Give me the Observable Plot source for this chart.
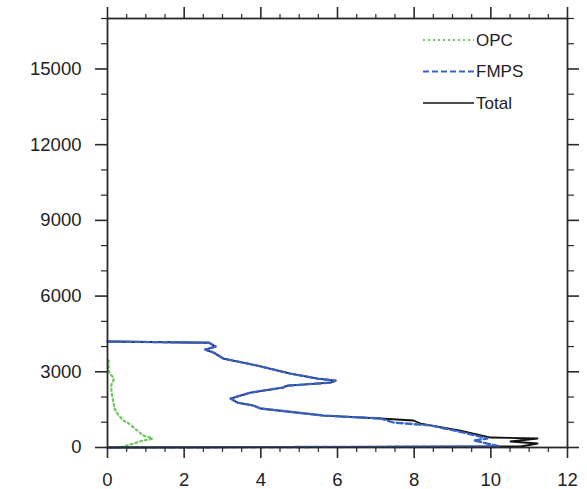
<!DOCTYPE html>
<html>
<head>
<meta charset="utf-8">
<script src="https://cdn.jsdelivr.net/npm/d3@7"></script>
<script src="https://cdn.jsdelivr.net/npm/@observablehq/plot@0.6"></script>
<style>
  html, body { margin: 0; padding: 0; background: #fff; }
  #chart { width: 587px; height: 489px; }
</style>
</head>
<body>
<div id="chart"></div>
<script>
// Series: value (x) vs altitude (y), in drawing order
const totalX = [0, 2.65, 2.82, 2.55, 2.77, 3.03, 3.91, 4.77, 5.48, 5.95, 5.82, 4.70, 4.57, 3.73, 3.47, 3.21, 3.39, 3.81, 3.99, 5.64, 7.12, 7.98, 8.17, 9.21, 10.0, 11.22, 10.51, 11.22, 10.77, 0];
const totalY = [4200, 4150, 4000, 3880, 3760, 3520, 3245, 2930, 2730, 2650, 2570, 2450, 2375, 2175, 2060, 1940, 1780, 1660, 1545, 1265, 1150, 1070, 950, 673, 396, 356, 237, 158, 40, 0];

const fmpsX = [0, 2.65, 2.82, 2.55, 2.77, 3.03, 3.91, 4.77, 5.48, 5.95, 5.82, 4.70, 4.57, 3.73, 3.47, 3.21, 3.39, 3.81, 3.99, 5.64, 7.12, 7.46, 8.43, 9.29, 9.91, 9.55, 9.91, 10.25, 0];
const fmpsY = [4200, 4150, 4000, 3880, 3760, 3520, 3245, 2930, 2730, 2650, 2570, 2450, 2375, 2175, 2060, 1940, 1780, 1660, 1545, 1265, 1150, 990, 870, 594, 356, 277, 158, 40, 0];

const opcX = [0.03, 0.05, 0.16, 0.10, 0.16, 0.21, 0.42, 0.52, 0.78, 0.94, 1.17, 0.94, 0.68, 0.42, 0.2];
const opcY = [3440, 2970, 2730, 2450, 1740, 1460, 1070, 990, 673, 475, 356, 277, 158, 40, 0];

const xMajor = [0, 2, 4, 6, 8, 10, 12];
const yMajor = [0, 3000, 6000, 9000, 12000, 15000];
const legendNames = ["OPC", "FMPS", "Total"];

const xMinor = d3.range(0, 12.01, 0.5).filter(v => !xMajor.includes(v));
const yMinor = d3.range(0, 17001, 1000).filter(v => !yMajor.includes(v));

const toRows = (xs, ys) => xs.map((x, i) => ({x, y: ys[i]}));
const total = toRows(totalX, totalY);
const fmps = toRows(fmpsX, fmpsY);
const opc = toRows(opcX, opcY);

const green = "#66cc55", blue = "#3a62c6", black = "#111";
const axisColor = "#2a2a2a";
const blank = () => "";

const chart = Plot.plot({
  width: 587,
  height: 489,
  marginLeft: 107,
  marginRight: 20,
  marginTop: 18,
  marginBottom: 42,
  style: {fontFamily: "'Liberation Sans', Arial, sans-serif", fontSize: "18.5px", color: "#222", background: "#fff"},
  x: {domain: [0, 12]},
  y: {domain: [0, 17000]},
  marks: [
    Plot.line(opc, {x: "x", y: "y", stroke: green, strokeWidth: 2.2, strokeDasharray: "2,3", curve: "catmull-rom"}),
    Plot.line(total, {x: "x", y: "y", stroke: black, strokeWidth: 1.8}),
    Plot.line(fmps, {x: "x", y: "y", stroke: blue, strokeWidth: 2.3, strokeDasharray: "6,3"}),
    Plot.frame({stroke: axisColor, strokeWidth: 1.8}),
    // bottom
    Plot.axisX({anchor: "bottom", ticks: xMajor, tickSize: 11, tickPadding: 14, tickFormat: d => String(d), label: null, stroke: axisColor, strokeWidth: 1.6, fill: "#222"}),
    Plot.axisX({anchor: "bottom", ticks: xMinor, tickSize: 5, tickFormat: blank, label: null, stroke: axisColor, strokeWidth: 1.2}),
    // top
    Plot.axisX({anchor: "top", ticks: xMajor, tickSize: 12, tickFormat: blank, label: null, stroke: axisColor, strokeWidth: 1.6}),
    Plot.axisX({anchor: "top", ticks: xMinor, tickSize: 5, tickFormat: blank, label: null, stroke: axisColor, strokeWidth: 1.2}),
    // left
    Plot.axisY({anchor: "left", ticks: yMajor, tickSize: 12, tickPadding: 14, tickFormat: d => String(d), label: null, stroke: axisColor, strokeWidth: 1.6, fill: "#222"}),
    Plot.axisY({anchor: "left", ticks: yMinor, tickSize: 6, tickFormat: blank, label: null, stroke: axisColor, strokeWidth: 1.2}),
    // right
    Plot.axisY({anchor: "right", ticks: yMajor, tickSize: 11, tickFormat: blank, label: null, stroke: axisColor, strokeWidth: 1.6}),
    Plot.axisY({anchor: "right", ticks: yMinor, tickSize: 6, tickFormat: blank, label: null, stroke: axisColor, strokeWidth: 1.2})
  ]
});

document.getElementById("chart").appendChild(chart);

// In-plot legend (top right)
const svg = d3.select(chart);
const legendStyles = [
  {color: green, dash: "2,3", width: 2.2},
  {color: blue, dash: "6,3", width: 2.2},
  {color: black, dash: null, width: 1.6}
];
const lg = svg.append("g")
  .attr("font-family", "'Liberation Sans', Arial, sans-serif")
  .attr("font-size", 17)
  .attr("fill", "#222")
  .attr("text-anchor", "start");
legendNames.forEach((name, i) => {
  const yy = 40 + i * 31.5;
  const s = legendStyles[i];
  lg.append("line").attr("x1", 423).attr("x2", 474).attr("y1", yy).attr("y2", yy)
    .attr("stroke", s.color).attr("stroke-width", s.width).attr("stroke-dasharray", s.dash);
  lg.append("text").attr("x", 476).attr("y", yy).attr("dy", "0.35em").attr("text-anchor", "start").text(name);
});
</script>
</body>
</html>
